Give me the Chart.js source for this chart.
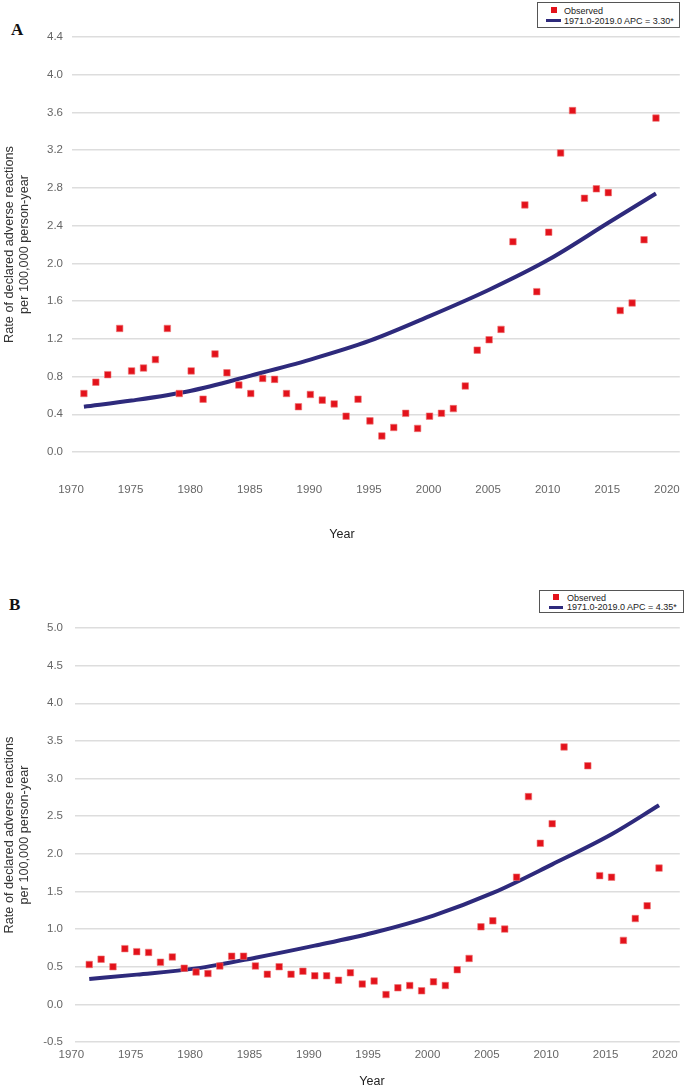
<!DOCTYPE html>
<html>
<head>
<meta charset="utf-8">
<title>Declared adverse reactions</title>
<script src="https://cdn.jsdelivr.net/npm/chart.js@4.4.0/dist/chart.umd.min.js"></script>
<style>
  body { margin: 0; width: 685px; height: 1090px; position: relative; overflow: hidden; background: #fff; font-family: "Liberation Sans", Arial, sans-serif; }
  canvas { position: absolute; left: 0; }
  .panel { position: absolute; font: bold 17px "Liberation Serif", "Times New Roman", serif; color: #111; }
  .xtitle { position: absolute; font-size: 12.5px; color: #222; transform: translate(-50%, -50%); }
  .legend { position: absolute; box-sizing: border-box; border: 1px solid #555; background: #fff; font-size: 9px; color: #222; }
  .legend .sq { position: absolute; width: 6px; height: 6px; background: #e3121b; }
  .legend .ln { position: absolute; height: 3px; background: #2e2a7c; }
  .legend .tx { position: absolute; line-height: 10px; white-space: nowrap; }
</style>
</head>
<body>
<div class="panel" style="left:11px; top:20px;">A</div>
<div class="panel" style="left:9px; top:595px;">B</div>
<canvas id="chartA" width="685" height="545" style="top:0"></canvas>
<canvas id="chartB" width="685" height="545" style="top:545px"></canvas>
<div class="xtitle" style="left:342px; top:534px;">Year</div>
<div class="xtitle" style="left:372px; top:1081px;">Year</div>
<div id="legA" class="legend" style="left:537px; top:2px; width:143px; height:26px;"></div>
<div id="legB" class="legend" style="left:539px; top:590px; width:145px; height:23px;"></div>

<script>
const years = [1971, 1972, 1973, 1974, 1975, 1976, 1977, 1978, 1979, 1980,
  1981, 1982, 1983, 1984, 1985, 1986, 1987, 1988, 1989, 1990,
  1991, 1992, 1993, 1994, 1995, 1996, 1997, 1998, 1999, 2000,
  2001, 2002, 2003, 2004, 2005, 2006, 2007, 2008, 2009, 2010,
  2011, 2012, 2013, 2014, 2015, 2016, 2017, 2018, 2019];

// panel A: observed rates
const observedA = [0.62, 0.74, 0.82, 1.31, 0.86, 0.89, 0.98, 1.31, 0.62, 0.86,
  0.56, 1.04, 0.84, 0.71, 0.62, 0.78, 0.77, 0.62, 0.48, 0.61,
  0.55, 0.51, 0.38, 0.56, 0.33, 0.17, 0.26, 0.41, 0.25, 0.38,
  0.41, 0.46, 0.70, 1.08, 1.19, 1.30, 2.23, 2.62, 1.70, 2.33,
  3.17, 3.62, 2.69, 2.79, 2.75, 1.50, 1.58, 2.25, 3.54];

// panel B: observed rates (no value for 2012)
const observedB = [0.53, 0.60, 0.50, 0.74, 0.70, 0.69, 0.56, 0.63, 0.48, 0.43,
  0.41, 0.51, 0.64, 0.64, 0.51, 0.40, 0.50, 0.40, 0.44, 0.38,
  0.38, 0.32, 0.42, 0.27, 0.31, 0.13, 0.22, 0.25, 0.18, 0.30,
  0.25, 0.46, 0.61, 1.03, 1.11, 1.00, 1.69, 2.76, 2.14, 2.40,
  3.42, null, 3.17, 1.71, 1.69, 0.85, 1.14, 1.31, 1.81];

// fitted trend
const trendYears = [1971, 1975, 1980, 1985, 1990, 1995, 2000, 2005, 2010, 2015, 2019];
const trendA = [0.48, 0.545, 0.65, 0.81, 0.98, 1.18, 1.44, 1.72, 2.04, 2.43, 2.74];
const trendB = [0.337, 0.395, 0.478, 0.62, 0.78, 0.955, 1.18, 1.48, 1.86, 2.26, 2.645];

const xTicks = [1970, 1975, 1980, 1985, 1990, 1995, 2000, 2005, 2010, 2015, 2020];
const yTicksA = [0, 0.4, 0.8, 1.2, 1.6, 2.0, 2.4, 2.8, 3.2, 3.6, 4.0, 4.4];
const yTicksB = [-0.5, 0, 0.5, 1.0, 1.5, 2.0, 2.5, 3.0, 3.5, 4.0, 4.5, 5.0];

const seriesA = ["Observed", "1971.0-2019.0 APC = 3.30*"];
const seriesB = ["Observed", "1971.0-2019.0 APC = 4.35*"];

const yTitle = ["Rate of declared adverse reactions", "per 100,000 person-year"];
const FONT = "'Liberation Sans', Arial, sans-serif";
const RED = "#e3121b";
const NAVY = "#2e2a7c";

function pairs(xs, ys) {
  return xs.map((x, i) => ({ x: x, y: ys[i] }));
}

function makeChart(id, cfg) {
  return new Chart(document.getElementById(id), {
    type: "scatter",
    data: {
      datasets: [
        {
          label: cfg.labels[0],
          data: pairs(years, cfg.observed),
          pointStyle: "rect",
          pointRadius: 4.6,
          backgroundColor: RED,
          borderColor: "#ee7777",
          borderWidth: 0.6,
          order: 0
        },
        {
          label: cfg.labels[1],
          data: pairs(trendYears, cfg.trend),
          showLine: true,
          borderColor: NAVY,
          borderWidth: 4,
          pointRadius: 0,
          cubicInterpolationMode: "monotone",
          order: 1
        }
      ]
    },
    options: {
      responsive: false,
      animation: false,
      layout: { padding: cfg.padding },
      plugins: { legend: { display: false }, tooltip: { enabled: false } },
      scales: {
        x: {
          type: "linear",
          min: cfg.xMin,
          max: cfg.xMax,
          afterBuildTicks: s => { s.ticks = xTicks.map(v => ({ value: v })); },
          afterFit: s => { s.height = cfg.xHeight; },
          // tick marks are hidden but their length pushes the labels down
          grid: { display: false, drawTicks: true, tickLength: cfg.xGap },
          border: { display: false },
          ticks: {
            callback: v => String(v),
            font: { family: FONT, size: 11.5 },
            color: "#666",
            padding: 0,
            labelOffset: cfg.labelOffset,
            maxRotation: 0
          }
        },
        y: {
          min: cfg.yTicks[0],
          max: cfg.yTicks[cfg.yTicks.length - 1],
          afterBuildTicks: s => { s.ticks = cfg.yTicks.map(v => ({ value: v })); },
          afterFit: s => { s.width = cfg.yWidth; },
          grid: { color: "#dddddd", lineWidth: 1.5, drawTicks: false },
          border: { display: false },
          ticks: {
            callback: v => v.toFixed(1),
            font: { family: FONT, size: 11.5 },
            color: "#666",
            padding: cfg.yPad
          },
          title: {
            display: true,
            text: yTitle,
            font: { family: FONT, size: 12.7 },
            color: "#333",
            padding: { top: 2, bottom: 0 }
          }
        }
      }
    }
  });
}

function makeLegend(id, labels, s) {
  const box = document.getElementById(id);
  box.innerHTML =
    `<div class="sq" style="left:${s.sqX}px; top:${s.sqY}px"></div>
     <div class="tx" style="left:${s.txX}px; top:${s.row1}px">${labels[0]}</div>
     <div class="ln" style="left:${s.lnX}px; top:${s.lnY}px; width:${s.lnW}px"></div>
     <div class="tx" style="left:${s.txX}px; top:${s.row2}px">${labels[1]}</div>`;
}

makeChart("chartA", {
  observed: observedA, trend: trendA, labels: seriesA, yTicks: yTicksA,
  xMin: 1970, xMax: 2021, labelOffset: -1,
  padding: { left: 0, right: 2, top: 37, bottom: 47 },
  xHeight: 46, xGap: 31, yWidth: 72, yPad: 9
});

makeChart("chartB", {
  observed: observedB, trend: trendB, labels: seriesB, yTicks: yTicksB,
  xMin: 1969.8, xMax: 2020.75, labelOffset: -6,
  padding: { left: 0, right: 0, top: 83, bottom: 28 },
  xHeight: 20, xGap: 6, yWidth: 75, yPad: 12
});

makeLegend("legA", seriesA, { sqX: 13, sqY: 4, txX: 26, row1: 3, lnX: 8, lnY: 16, lnW: 15, row2: 13 });
makeLegend("legB", seriesB, { sqX: 13, sqY: 3, txX: 27, row1: 2, lnX: 9, lnY: 15, lnW: 14, row2: 11 });
</script>
</body>
</html>
